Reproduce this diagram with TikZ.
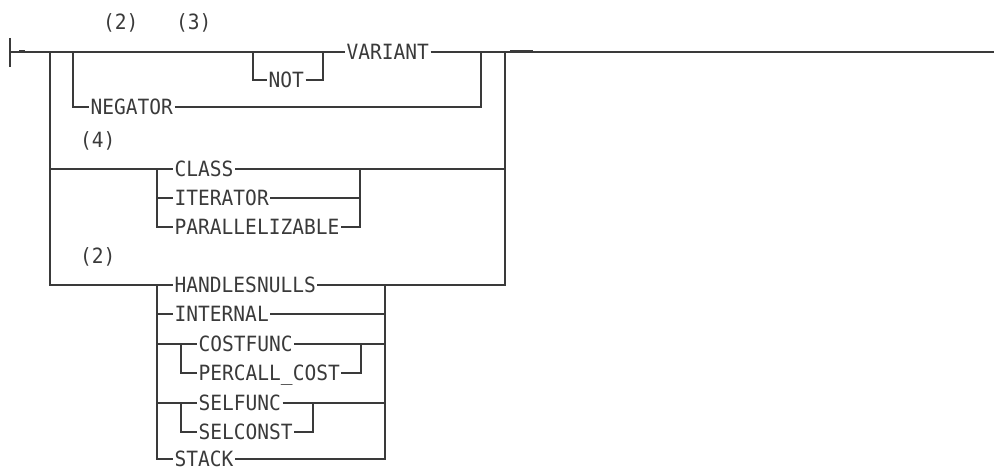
\documentclass[tikz,border=0pt]{standalone}
\usepackage{fontspec}
\newfontfamily\railfont[FakeStretch=0.93]{DejaVu Sans Mono}
\definecolor{RailInk}{HTML}{3A3A3A}
\tikzset{
  % keyword sitting on a track
  kw/.style={
    anchor=west, inner xsep=1.5pt, inner ysep=0pt,
    text height=15.3pt, text depth=0pt,
    text=RailInk, font=\railfont\fontsize{21}{22}\selectfont
  },
  % footnote reference like (2)
  fn/.style={kw, inner xsep=0pt},
  % track line
  track/.style={draw=RailInk, line width=1.4pt},
  % heavy bit on the main line
  heavy/.style={draw=RailInk, line width=3pt}
}
\begin{document}
\begin{tikzpicture}[x=1pt, y=-1pt]
  \useasboundingbox (0,0) rectangle (994,468);

  % junctions on the main line
  \coordinate (barT) at (10,38);
  \coordinate (barB) at (10,67);
  \coordinate (s)    at (10,52);
  \coordinate (h1)   at (19,52);
  \coordinate (h2)   at (25,52);
  \coordinate (g0l)  at (50,52);
  \coordinate (g1l)  at (73,52);
  \coordinate (nl)   at (253,52);
  \coordinate (nr)   at (323,52);
  \coordinate (g1r)  at (481,52);
  \coordinate (g0r)  at (505,52);
  \coordinate (h3)   at (510,52);
  \coordinate (h4)   at (533,52);
  \coordinate (e)    at (994,52);

  % junctions of the lower groups
  \coordinate (c2l) at (157,169);
  \coordinate (c2r) at (360,169);
  \coordinate (c3l) at (157,285);
  \coordinate (c3r) at (385,285);
  \coordinate (cfl) at (181,344);
  \coordinate (cfr) at (361,344);
  \coordinate (sfl) at (181,403);
  \coordinate (sfr) at (313,403);

  % notes
  \node[fn] (n2a) at (103,22)  {(2)};
  \node[fn] (n3)  at (176,22)  {(3)};
  \node[fn] (n4)  at (80,140)  {(4)};
  \node[fn] (n2b) at (80,256)  {(2)};

  % keywords
  \node[kw] (variant)  at (345,52)  {VARIANT};
  \node[kw] (not)      at (267,80)  {NOT};
  \node[kw] (negator)  at (89,107)  {NEGATOR};
  \node[kw] (class)    at (173,169) {CLASS};
  \node[kw] (iterator) at (173,198) {ITERATOR};
  \node[kw] (parallel) at (173,227) {PARALLELIZABLE};
  \node[kw] (handles)  at (173,285) {HANDLESNULLS};
  \node[kw] (internal) at (173,314) {INTERNAL};
  \node[kw] (costfunc) at (197,344) {COSTFUNC};
  \node[kw] (percall)  at (197,373) {PERCALL\_COST};
  \node[kw] (selfunc)  at (197,403) {SELFUNC};
  \node[kw] (selconst) at (197,432) {SELCONST};
  \node[kw] (stack)    at (173,459) {STACK};

  % main line
  \draw[track] (barT) -- (barB);
  \draw[track] (s) -- (variant.west);
  \draw[track] (variant.east) -- (e);
  \draw[heavy] (h1) -- (h2);
  \draw[heavy] (h3) -- (h4);

  % NOT / NEGATOR
  \draw[track] (nl) |- (not.west);
  \draw[track] (not.east) -| (nr);
  \draw[track] (g1l) |- (negator.west);
  \draw[track] (negator.east) -| (g1r);

  % CLASS group
  \draw[track] (g0l) |- (c2l) -- (class.west);
  \draw[track] (class.east) -- (c2r) -| (g0r);
  \draw[track] (c2l) |- (iterator.west);
  \draw[track] (c2l) |- (parallel.west);
  \draw[track] (iterator.east) -| (c2r);
  \draw[track] (parallel.east) -| (c2r);

  % HANDLESNULLS group
  \draw[track] (g0l) |- (c3l) -- (handles.west);
  \draw[track] (handles.east) -- (c3r) -| (g0r);
  \draw[track] (c3l) |- (internal.west);
  \draw[track] (internal.east) -| (c3r);
  \draw[track] (c3l) |- (cfl) -- (costfunc.west);
  \draw[track] (costfunc.east) -- (cfr) -| (c3r);
  \draw[track] (cfl) |- (percall.west);
  \draw[track] (percall.east) -| (cfr);
  \draw[track] (c3l) |- (sfl) -- (selfunc.west);
  \draw[track] (selfunc.east) -- (sfr) -| (c3r);
  \draw[track] (sfl) |- (selconst.west);
  \draw[track] (selconst.east) -| (sfr);
  \draw[track] (c3l) |- (stack.west);
  \draw[track] (stack.east) -| (c3r);
\end{tikzpicture}
\end{document}
